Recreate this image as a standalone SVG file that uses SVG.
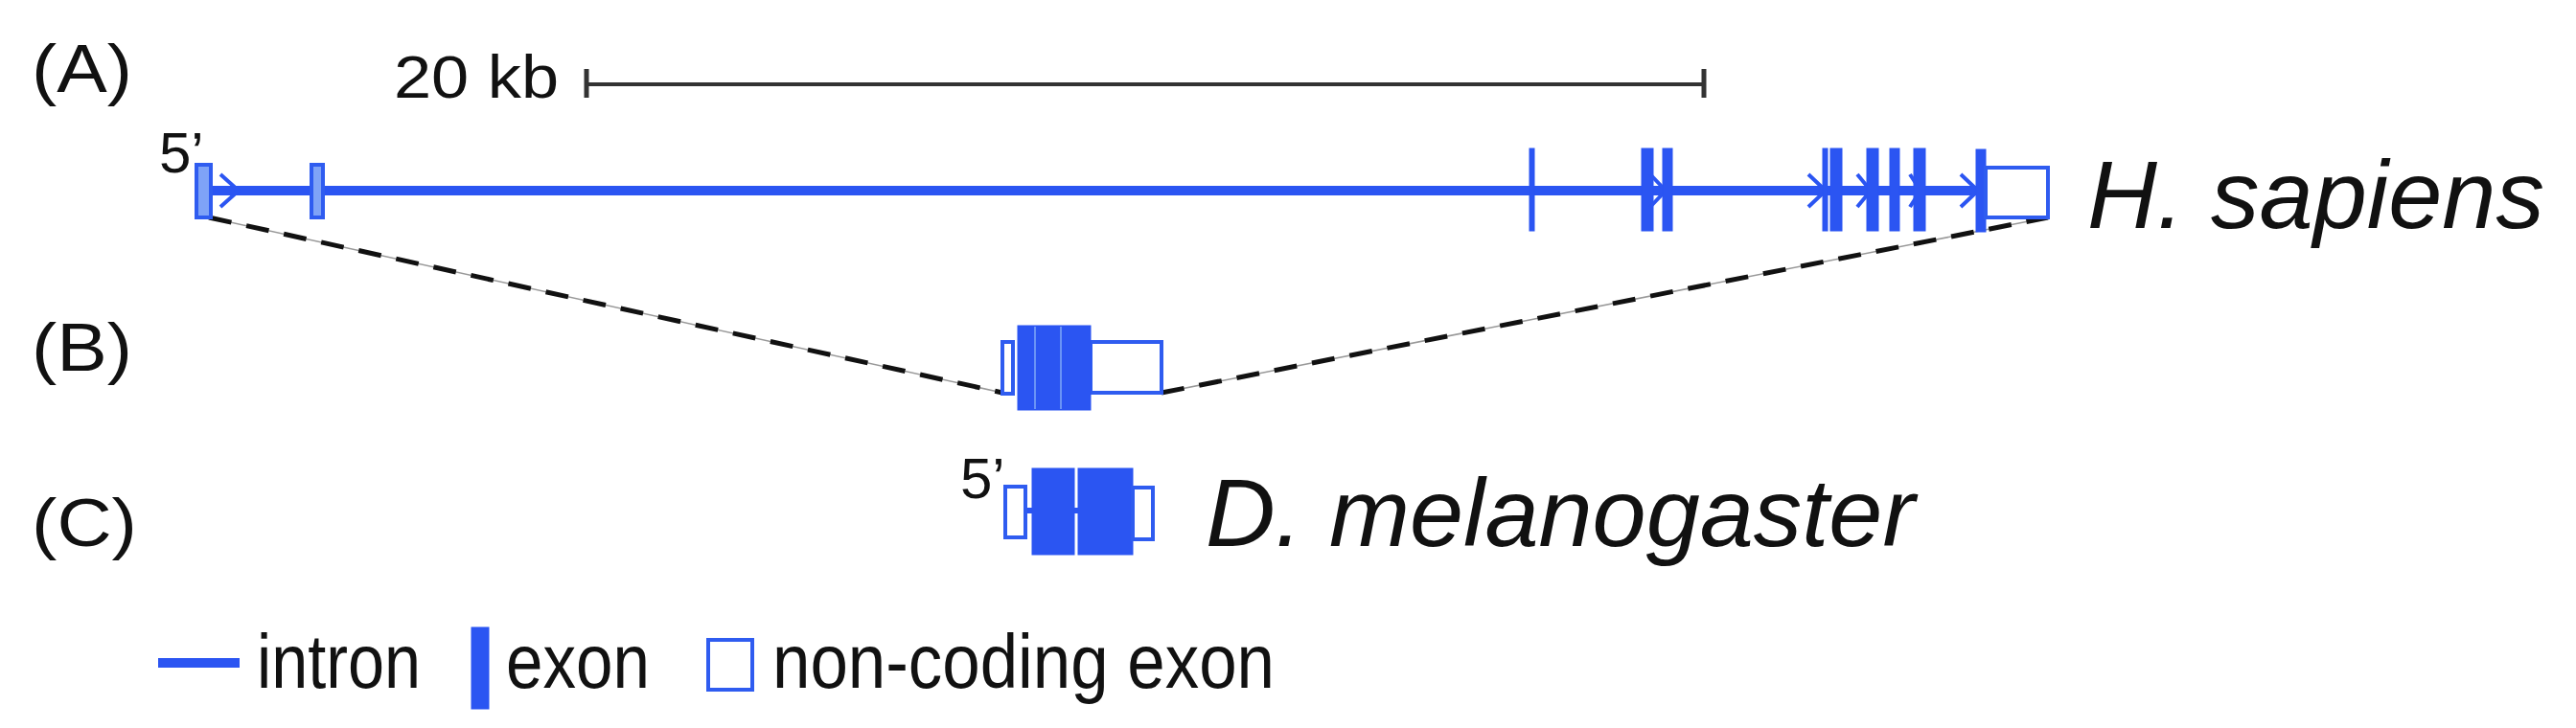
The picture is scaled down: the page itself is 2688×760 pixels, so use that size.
<svg xmlns="http://www.w3.org/2000/svg" width="2688" height="760" viewBox="0 0 2688 760">
<style>
.t{font-family:"Liberation Sans",Arial,sans-serif;fill:#111}
.sp{font-family:"Liberation Sans",Arial,sans-serif;font-style:italic;fill:#111}
.ex{fill:#2b55f2;stroke:#2b55f2;stroke-width:1}
.nc{fill:#fff;stroke:#2f5cf0;stroke-width:4}
.ncl{fill:#7fa3f7;stroke:#2f5cf0;stroke-width:4}
.intr{stroke:#2b55f2;stroke-width:10;fill:none}
.chev{stroke:#2b55f2;stroke-width:4;fill:none}
.dash{stroke:#111;stroke-width:5;stroke-dasharray:24 16;fill:none}
.thin{stroke:#999;stroke-width:1.5;fill:none}
.sep{stroke:#6a93f6;stroke-width:2}
</style>
<rect width="2688" height="760" fill="#fff"/>
<g id="labels">
<text class="t" x="33" y="96" font-size="70" textLength="105" lengthAdjust="spacingAndGlyphs">(A)</text>
<text class="t" x="33" y="387" font-size="70" textLength="105" lengthAdjust="spacingAndGlyphs">(B)</text>
<text class="t" x="33" y="570" font-size="70" textLength="110" lengthAdjust="spacingAndGlyphs">(C)</text>
</g>
<g id="scalebar">
<line x1="612" y1="88" x2="1778" y2="88" stroke="#333" stroke-width="4"/>
<line x1="612" y1="72" x2="612" y2="102" stroke="#333" stroke-width="5"/>
<line x1="1778" y1="72" x2="1778" y2="102" stroke="#333" stroke-width="5"/>
<text class="t" x="411" y="102" font-size="63" textLength="172" lengthAdjust="spacingAndGlyphs">20 kb</text>
</g>
<g id="connectors">
<line class="thin" x1="218" y1="227" x2="1046" y2="410"/>
<line class="dash" x1="218" y1="227" x2="1046" y2="410"/>
<line class="thin" x1="1212" y1="410" x2="2137" y2="227"/>
<line class="dash" x1="1212" y1="410" x2="2137" y2="227"/>
</g>
<g id="human-gene">
<line class="intr" x1="212" y1="199" x2="2068" y2="199"/>
<rect class="ncl" x="205" y="172" width="15" height="55"/>
<polyline class="chev" points="230,182 249,199 230,216"/>
<rect class="ncl" x="325" y="172" width="12" height="55"/>
<rect class="ex" x="1596" y="155" width="5" height="86"/>
<rect class="ex" x="1713" y="155" width="12" height="86"/>
<polyline class="chev" points="1722,182 1738,199 1722,216"/>
<rect class="ex" x="1735" y="155" width="10" height="86"/>
<polyline class="chev" points="1887,182 1905,199 1887,216"/>
<rect class="ex" x="1902" y="155" width="5" height="86"/>
<rect class="ex" x="1910" y="155" width="12" height="86"/>
<polyline class="chev" points="1938,182 1952,199 1938,216"/>
<rect class="ex" x="1948" y="155" width="12" height="86"/>
<rect class="ex" x="1972" y="155" width="10" height="86"/>
<polyline class="chev" points="1993,182 2004,199 1993,216"/>
<rect class="ex" x="1997" y="155" width="12" height="86"/>
<polyline class="chev" points="2046,182 2064,199 2046,216"/>
<rect class="ex" x="2062" y="156" width="10" height="86"/>
<rect class="nc" x="2072" y="175" width="65" height="52"/>
<text class="t" x="166" y="180" font-size="60">5’</text>
<text class="sp" x="2178" y="238" font-size="100" textLength="477" lengthAdjust="spacingAndGlyphs">H. sapiens</text>
</g>
<g id="aligned-gene">
<rect class="nc" x="1046" y="357" width="11" height="54"/>
<rect class="nc" x="1138" y="357" width="74" height="53"/>
<rect class="ex" x="1062" y="340" width="76" height="88"/>
<line class="sep" x1="1080" y1="341" x2="1080" y2="427"/>
<line class="sep" x1="1107" y1="341" x2="1107" y2="427"/>
</g>
<g id="fly-gene">
<line x1="1070" y1="533" x2="1182" y2="533" stroke="#2b55f2" stroke-width="6"/>
<rect class="nc" x="1049" y="508" width="21" height="53"/>
<rect class="ex" x="1077" y="489" width="44" height="90"/>
<rect class="ex" x="1125" y="489" width="57" height="90"/>
<rect class="nc" x="1182" y="509" width="21" height="54"/>
<text class="t" x="1002" y="520" font-size="60">5’</text>
<text class="sp" x="1258" y="570" font-size="100" textLength="740" lengthAdjust="spacingAndGlyphs">D. melanogaster</text>
</g>
<g id="legend">
<line x1="165" y1="692" x2="250" y2="692" stroke="#2b55f2" stroke-width="10"/>
<text class="t" x="268" y="718" font-size="80" textLength="171" lengthAdjust="spacingAndGlyphs">intron</text>
<rect class="ex" x="492" y="655" width="18" height="85"/>
<text class="t" x="528" y="718" font-size="80" textLength="150" lengthAdjust="spacingAndGlyphs">exon</text>
<rect class="nc" x="739" y="668" width="46" height="52"/>
<text class="t" x="806" y="718" font-size="80" textLength="524" lengthAdjust="spacingAndGlyphs">non-coding exon</text>
</g>
</svg>
